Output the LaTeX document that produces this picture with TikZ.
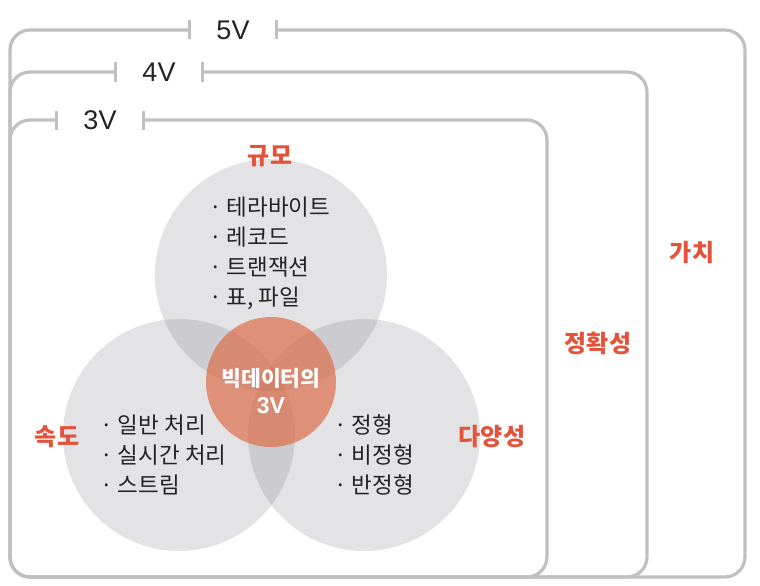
\documentclass[tikz,border=0pt]{standalone}
\usepackage{fontspec}
\setmainfont{Noto Sans CJK KR}
\newfontfamily\latinfont{Liberation Sans}
\definecolor{framegray}{RGB}{192,192,194}
\definecolor{vred}{RGB}{228,82,58}
\definecolor{txtgray}{RGB}{35,35,35}
\definecolor{bubblegray}{RGB}{70,70,85}
\definecolor{coreorange}{RGB}{220,100,62}

\begin{document}
\begin{tikzpicture}[x=1pt, y=-1pt,
    vframe/.style={draw=framegray, line width=3.2pt, rounded corners=20pt},
    vtick/.style={draw=framegray, line width=3.2pt},
    vlabel/.style={minimum width=86pt, inner sep=0pt, text=txtgray, font=\latinfont\fontsize{27}{27}\selectfont},
    bubble/.style={circle, minimum size=232pt, inner sep=0pt, fill=bubblegray, fill opacity=0.15},
    core/.style={circle, minimum size=130pt, inner sep=0pt, fill=coreorange, fill opacity=0.65},
    coretext/.style={align=center, text=white, font=\bfseries\fontsize{21.5}{27}\selectfont},
    vname/.style={text=vred, font=\bfseries\fontsize{24}{24}\selectfont},
    items/.style={align=left, anchor=west, inner sep=0pt, text=txtgray, font=\fontsize{22.5}{30}\selectfont}]
    \useasboundingbox (0,0) rectangle (760,586);

    % the three frames
    \node[vlabel] (v5) at (233,30) {5V};
    \node[vlabel] (v4) at (159,72) {4V};
    \node[vlabel] (v3) at (100,120) {3V};
    \draw[vframe] (v5.west) -- (10,30) -- (10,577) -- (745,577) -- (745,30) -- (v5.east);
    \draw[vframe] (v4.west) -- (10,72) -- (10,577) -- (647,577) -- (647,72) -- (v4.east);
    \draw[vframe] (v3.west) -- (10,120) -- (10,577) -- (547,577) -- (547,120) -- (v3.east);
    \foreach \v in {v5,v4,v3} {
        \draw[vtick] ([yshift=9.5pt]\v.west) -- ([yshift=-9.5pt]\v.west);
        \draw[vtick] ([yshift=9.5pt]\v.east) -- ([yshift=-9.5pt]\v.east);
    }

    % circles
    \node[bubble] (vol) at (271,275) {};
    \node[bubble] (vel) at (179,435) {};
    \node[bubble] (var) at (364,435) {};
    \node[core] (core) at (271,382) {};
    \node[coretext] (coretitle) at ([yshift=-9pt]core.center) {빅데이터의\\{\latinfont\bfseries\fontsize{23}{27}\selectfont 3V}};

    \node[vname] (volname) at (270,156) {규모};
    \node[vname] (velname) at (57,437) {속도};
    \node[vname] (varname) at (492,437) {다양성};
    \node[vname] (vername) at (598,343) {정확성};
    \node[vname] (valname) at (692,252) {가치};

    \node[items] (volitems) at (209,253) {· 테라바이트\\· 레코드\\· 트랜잭션\\· 표, 파일};
    \node[items] (velitems) at (100,455) {· 일반 처리\\· 실시간 처리\\· 스트림};
    \node[items] (varitems) at (334,455) {· 정형\\· 비정형\\· 반정형};
\end{tikzpicture}
\end{document}
